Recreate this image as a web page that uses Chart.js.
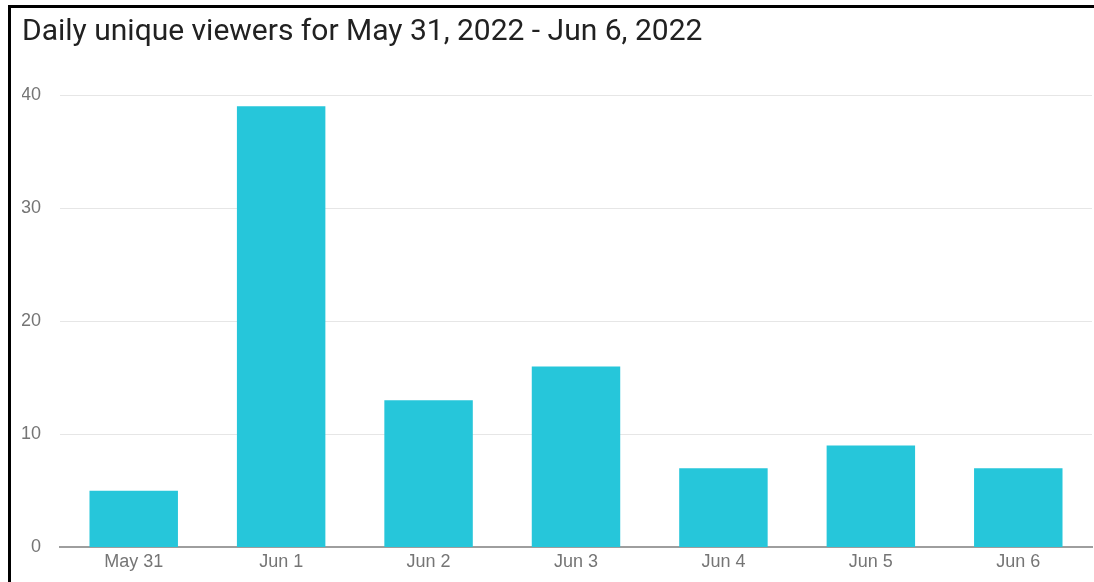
<!DOCTYPE html>
<html>
<head>
<meta charset="utf-8">
<script src="https://cdn.jsdelivr.net/npm/chart.js@4/dist/chart.umd.min.js"></script>
<style>
  html, body { margin: 0; padding: 0; background: #fff; }
  #wrap { position: relative; width: 1094px; height: 582px; }
</style>
</head>
<body>
<div id="wrap"><canvas id="c" width="1094" height="582"></canvas></div>
<script>
const titleText = 'Daily unique viewers for May 31, 2022 - Jun 6, 2022';
const days = ['May 31', 'Jun 1', 'Jun 2', 'Jun 3', 'Jun 4', 'Jun 5', 'Jun 6'];
const viewers = [5, 39, 13, 16, 7, 9, 7];
const yTicks = [0, 10, 20, 30, 40];

// Black frame along the top and left edges of the card
const framePlugin = {
  id: 'frame',
  beforeDraw(chart) {
    const ctx = chart.ctx;
    ctx.save();
    ctx.fillStyle = '#fff';
    ctx.fillRect(0, 0, chart.width, chart.height);
    ctx.fillStyle = '#000';
    ctx.fillRect(8, 5, chart.width - 8, 3);
    ctx.fillRect(8, 5, 3, chart.height - 5);
    ctx.restore();
  }
};

new Chart(document.getElementById('c'), {
  type: 'bar',
  data: {
    labels: days,
    datasets: [{
      data: viewers,
      backgroundColor: '#26c6da',
      borderWidth: 0,
      barPercentage: 0.6,
      categoryPercentage: 1.0
    }]
  },
  options: {
    responsive: false,
    animation: false,
    layout: { padding: { left: 22, right: 2, top: 0, bottom: 5 } },
    plugins: {
      legend: { display: false },
      tooltip: { enabled: false },
      title: {
        display: true,
        text: titleText,
        align: 'start',
        color: '#212121',
        font: { family: 'Roboto', size: 30, weight: 'normal', lineHeight: 1.2 },
        padding: { top: 14, bottom: 45 }
      }
    },
    scales: {
      x: {
        grid: { display: false, drawTicks: false },
        border: { display: true, color: '#9e9e9e', width: 2 },
        ticks: {
          color: '#757575',
          font: { family: 'Arial, Liberation Sans', size: 18 },
          padding: 4,
          maxRotation: 0
        }
      },
      y: {
        min: 0,
        max: 40,
        afterBuildTicks(scale) { scale.ticks = yTicks.map(v => ({ value: v })); },
        afterFit(scale) { scale.width = 38; },
        grid: { color: '#e6e6e6', lineWidth: 1, drawTicks: false },
        border: { display: false },
        ticks: {
          color: '#757575',
          font: { family: 'Arial, Liberation Sans', size: 18 },
          padding: 19
        }
      }
    }
  },
  plugins: [framePlugin]
});
</script>
</body>
</html>
